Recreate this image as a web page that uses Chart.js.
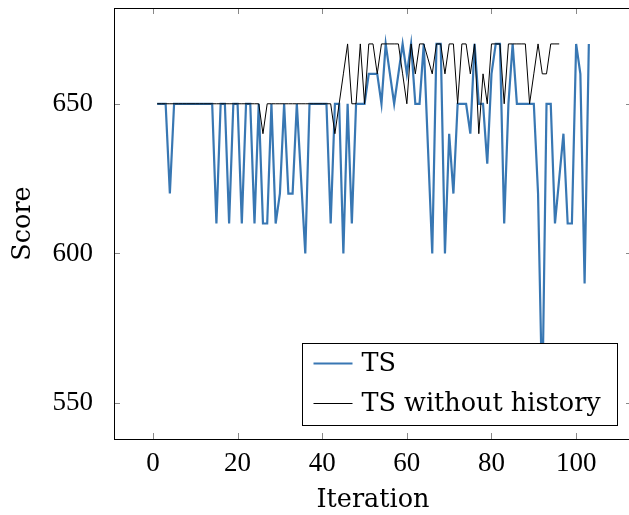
<!DOCTYPE html>
<html>
<head>
<meta charset="utf-8">
<script src="https://cdn.jsdelivr.net/npm/chart.js@4"></script>
<style>
  html, body { margin: 0; background: #fff; overflow: hidden; }
  #wrap { width: 633px; height: 515px; }
</style>
</head>
<body>
<div id="wrap"><canvas id="chart"></canvas></div>
<script>
// score per iteration (iteration = index + 1)
const tsScores = [
  650, 650, 650, 620, 650, 650, 650, 650, 650, 650,
  650, 650, 650, 650, 610, 650, 650, 610, 650, 650,
  610, 650, 650, 610, 650, 610, 610, 650, 610, 620,
  650, 620, 620, 650, 625, 600, 650, 650, 650, 650,
  650, 610, 650, 650, 600, 650, 610, 650, 650, 650,
  660, 660, 660, 650, 670, 660, 650, 660, 670, 660,
  670, 650, 650, 670, 635, 600, 670, 670, 600, 640,
  620, 650, 650, 650, 640, 670, 650, 650, 630, 660,
  670, 670, 610, 650, 670, 650, 650, 650, 650, 650,
  620, 550, 650, 650, 610, 625, 640, 610, 610, 670,
  660, 590, 670
];
const noHistoryScores = [
  650, 650, 650, 650, 650, 650, 650, 650, 650, 650,
  650, 650, 650, 650, 650, 650, 650, 650, 650, 650,
  650, 650, 650, 650, 650, 640, 650, 650, 650, 650,
  650, 650, 650, 650, 650, 650, 650, 650, 650, 650,
  650, 650, 640, 650, 660, 670, 650, 650, 670, 650,
  670, 670, 660, 670, 670, 670, 670, 670, 660, 650,
  670, 660, 670, 670, 665, 660, 670, 670, 660, 670,
  670, 650, 670, 670, 660, 670, 640, 660, 650, 670,
  670, 670, 650, 670, 670, 670, 670, 670, 650, 660,
  670, 660, 660, 670, 670, 670
];
const seriesNames = ['TS', 'TS without history'];
const xTickValues = [0, 20, 40, 60, 80, 100];
const yTickValues = [550, 600, 650];
const xRange = [-9.2, 113.2];
const yRange = [538, 682];

const toPoints = arr => arr.map((v, i) => ({ x: i + 1, y: v }));
const NUM_FONT = 'Liberation Serif';
const TXT_FONT = 'DejaVu Serif';
const TXT_SIZE = 25.5;

// pgfplots-like box with inward ticks, plus framed legend in the lower right
const boxPlugin = {
  id: 'box',
  afterDatasetsDraw(chart) {
    const { ctx, chartArea: a, scales } = chart;
    ctx.save();
    ctx.strokeStyle = '#888';
    ctx.lineWidth = 1;
    const tl = 6;
    scales.x.ticks.forEach(t => {
      const px = Math.round(scales.x.getPixelForValue(t.value)) + 0.5;
      ctx.beginPath();
      ctx.moveTo(px, a.bottom); ctx.lineTo(px, a.bottom - tl);
      ctx.moveTo(px, a.top); ctx.lineTo(px, a.top + tl);
      ctx.stroke();
    });
    scales.y.ticks.forEach(t => {
      const py = Math.round(scales.y.getPixelForValue(t.value)) + 0.5;
      ctx.beginPath();
      ctx.moveTo(a.left, py); ctx.lineTo(a.left + tl, py);
      ctx.moveTo(a.right, py); ctx.lineTo(a.right - tl, py);
      ctx.stroke();
    });
    ctx.strokeStyle = '#000';
    ctx.strokeRect(Math.round(a.left) + 0.5, Math.round(a.top) + 0.5,
                   Math.round(a.right - a.left), Math.round(a.bottom - a.top));

    // legend
    const lx = 302.5, lw = 315, lh = 82;
    const ly = Math.round(a.bottom - 14 - lh) + 0.5;
    ctx.fillStyle = '#fff';
    ctx.fillRect(lx, ly, lw, lh);
    ctx.strokeStyle = '#000';
    ctx.strokeRect(lx, ly, lw, lh);
    ctx.font = TXT_SIZE + 'px "' + TXT_FONT + '"';
    ctx.textBaseline = 'middle';
    chart.data.datasets.forEach((ds, i) => {
      const y = ly + 20 + i * 40;
      ctx.strokeStyle = ds.borderColor;
      ctx.lineWidth = ds.borderWidth;
      ctx.beginPath();
      ctx.moveTo(lx + 11, y); ctx.lineTo(lx + 50, y);
      ctx.stroke();
      ctx.fillStyle = '#000';
      ctx.fillText(ds.label, lx + 59, y + 1);
    });
    ctx.restore();
  }
};

new Chart(document.getElementById('chart'), {
  type: 'line',
  data: {
    datasets: [
      { label: seriesNames[0], data: toPoints(tsScores), borderColor: '#3877b3',
        borderWidth: 2.2, pointRadius: 0, fill: false, tension: 0, order: 1 },
      { label: seriesNames[1], data: toPoints(noHistoryScores), borderColor: '#000000',
        borderWidth: 1, pointRadius: 0, fill: false, tension: 0, order: 0 }
    ]
  },
  options: {
    responsive: true,
    maintainAspectRatio: false,
    animation: false,
    layout: { padding: { left: 0, right: 1, top: 8, bottom: 0 } },
    plugins: { legend: { display: false }, tooltip: { enabled: false } },
    scales: {
      x: {
        type: 'linear', min: xRange[0], max: xRange[1],
        afterBuildTicks: s => { s.ticks = xTickValues.map(v => ({ value: v })); },
        afterFit: s => { s.height = 76; s.paddingLeft = 0; s.paddingRight = 0; },
        grid: { display: false }, border: { display: false },
        ticks: { color: '#000', padding: 1, font: { family: NUM_FONT, size: 27 }, maxRotation: 0 },
        title: { display: true, text: 'Iteration', color: '#000', padding: { top: 0, bottom: -1 },
                 font: { family: TXT_FONT, size: TXT_SIZE } }
      },
      y: {
        type: 'linear', min: yRange[0], max: yRange[1],
        afterBuildTicks: s => { s.ticks = yTickValues.map(v => ({ value: v })); },
        afterFit: s => { s.width = 114; s.paddingTop = 0; s.paddingBottom = 0; },
        grid: { display: false }, border: { display: false },
        ticks: { color: '#000', padding: 13, font: { family: NUM_FONT, size: 27 } },
        title: { display: true, text: 'Score', color: '#000', padding: { top: 8, bottom: 0 },
                 font: { family: TXT_FONT, size: TXT_SIZE } }
      }
    }
  },
  plugins: [boxPlugin]
});
</script>
</body>
</html>
